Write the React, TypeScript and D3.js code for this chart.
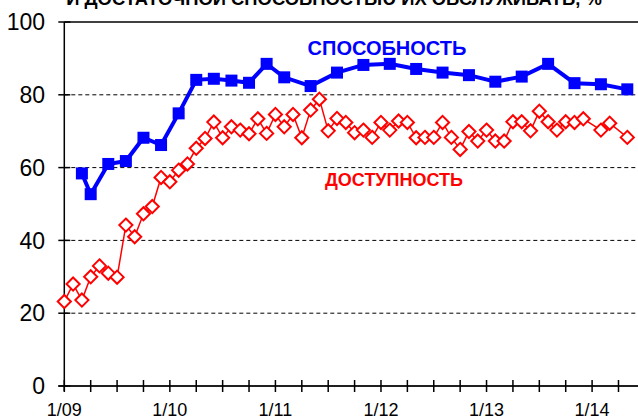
import * as d3 from "d3";
import React from "react";

// months are counted from 1/09 (0 = January 2009)
const abilityMonths = [2, 3, 5, 7, 9, 11, 13, 15, 17, 19, 21, 23, 25, 28, 31, 34, 37, 40, 43, 46, 49, 52, 55, 58, 61, 64];
const abilityValues = [58.4, 52.7, 61.0, 61.8, 68.2, 66.2, 74.9, 84.1, 84.4, 83.9, 83.3, 88.5, 84.8, 82.4, 86.1, 88.2, 88.5, 87.1, 86.1, 85.4, 83.6, 85.0, 88.5, 83.2, 82.9, 81.5];

const accessMonths = [
	0, 1, 2, 3, 4, 5, 6, 7, 8, 9, 10, 11, 12, 13, 14, 15, 16, 17, 18, 19, 20, 21, 22, 23, 24, 25, 26, 27, 28, 29,
	30, 31, 32, 33, 34, 35, 36, 37, 38, 39, 40, 41, 42, 43, 44, 45, 46, 47, 48, 49, 50, 51, 52, 53, 54, 55, 56, 57,
	58, 59, 61, 62, 64,
];
const accessValues = [
	23.2, 28.0, 23.6, 30.0, 33.0, 31.0, 29.9, 44.2, 41.0, 47.3, 49.3, 57.3, 56.1, 59.3, 61.0, 65.3, 68.0, 72.5, 68.2, 71.2,
	70.3, 69.3, 73.4, 69.4, 74.6, 71.2, 74.6, 68.2, 75.8, 78.8, 70.1, 73.5, 72.4, 69.6, 70.3, 68.3, 72.4, 70.3, 72.8, 72.4,
	68.2, 68.3, 68.3, 72.4, 68.3, 65.0, 69.9, 67.3, 70.3, 67.3, 67.3, 72.6, 72.6, 70.1, 75.5, 72.6, 70.3, 72.6, 72.4, 73.4,
	70.3, 72.2, 68.3,
];

const yTicks = [0, 20, 40, 60, 80, 100];
const yearLabels = ["1/09", "1/10", "1/11", "1/12", "1/13", "1/14"];

const title = "И ДОСТАТОЧНОЙ СПОСОБНОСТЬЮ ИХ ОБСЛУЖИВАТЬ, %";
const abilityName = "СПОСОБНОСТЬ";
const accessName = "ДОСТУПНОСТЬ";

const width = 638;
const height = 419;

const App = (): JSX.Element => {
	const x = d3.scaleLinear().domain([0, 60]).range([64.3, 592.1]);
	const y = d3.scaleLinear().domain([0, 100]).range([386, 22]);

	const ability = abilityMonths.map((m, i) => ({ m, v: abilityValues[i] }));
	const access = accessMonths.map((m, i) => ({ m, v: accessValues[i] }));

	const line = d3
		.line<{ m: number; v: number }>()
		.x((d) => x(d.m))
		.y((d) => y(d.v));

	const quarterTicks = d3.range(0, 67, 3).filter((m) => x(m) <= width);
	const diamond = d3.symbol(d3.symbolDiamond2, 110)()!;

	return (
		<svg
			width={width}
			height={height}
			style={{ position: "absolute", left: 0, top: 0, background: "#fff" }}
			fontFamily="Arial, 'Liberation Sans', sans-serif"
		>
			{/* title is cut off at the top, as in the source picture */}
			<text x={334} y={5} textAnchor="middle" fontSize={18.4} fontWeight="bold">
				{title}
			</text>

			{/* grid */}
			{yTicks.map((t) => (
				<line
					key={"g" + t}
					x1={x(0)}
					x2={width}
					y1={y(t)}
					y2={y(t)}
					stroke="#000"
					strokeWidth={t === 100 ? 1.5 : 1}
					strokeDasharray={t === 100 || t === 0 ? undefined : "4,3"}
				/>
			))}

			{/* y axis */}
			<line x1={x(0)} x2={x(0)} y1={y(100)} y2={y(0) + 5} stroke="#000" strokeWidth={1.5} />
			{yTicks.map((t) => (
				<g key={"y" + t}>
					<line x1={x(0) - 6} x2={x(0) + 6} y1={y(t)} y2={y(t)} stroke="#000" strokeWidth={1.5} />
					<text x={45} y={y(t)} dy="0.36em" textAnchor="end" fontSize={23}>
						{t}
					</text>
				</g>
			))}

			{/* x axis */}
			<line x1={x(0) - 6} x2={width} y1={y(0)} y2={y(0)} stroke="#000" strokeWidth={1.5} />
			{quarterTicks.map((m) => (
				<line key={"x" + m} x1={x(m)} x2={x(m)} y1={y(0) - 6} y2={y(0) + 6} stroke="#000" strokeWidth={1.5} />
			))}
			{yearLabels.map((l, i) => (
				<text key={l} x={x(i * 12)} y={416} textAnchor="middle" fontSize={18}>
					{l}
				</text>
			))}

			{/* access series */}
			<path d={line(access)!} fill="none" stroke="#ff0000" strokeWidth={1.5} />
			{access.map((d, i) => (
				<path
					key={"a" + i}
					d={diamond}
					transform={`translate(${x(d.m)},${y(d.v)})`}
					fill="#fff"
					stroke="#ff0000"
					strokeWidth={2}
				/>
			))}

			{/* ability series */}
			<path d={line(ability)!} fill="none" stroke="#0000ff" strokeWidth={4} />
			{ability.map((d, i) => (
				<rect key={"b" + i} x={x(d.m) - 6} y={y(d.v) - 6} width={12} height={12} fill="#0000ff" />
			))}

			<text x={387} y={55} textAnchor="middle" fontSize={20} fontWeight="bold" fill="#0000ff">
				{abilityName}
			</text>
			<text x={394} y={186} textAnchor="middle" fontSize={18} fontWeight="bold" fill="#ff0000">
				{accessName}
			</text>
		</svg>
	);
};

export default App;
